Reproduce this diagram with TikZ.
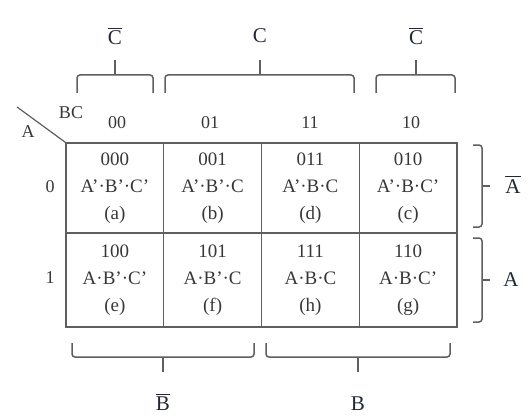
\documentclass[tikz,border=0pt]{standalone}
\usepackage{amsmath}
\usepackage{fontspec}
\setmainfont{Liberation Serif}
\usetikzlibrary{positioning}
\definecolor{gridgray}{RGB}{95,95,95}
\definecolor{textgray}{RGB}{55,55,55}
\definecolor{labelblue}{RGB}{35,40,55}
\tikzset{
    cell/.style={rectangle, draw=gridgray, line width=1.3pt, inner sep=0pt,
                 minimum width=97.75pt, minimum height=90pt, align=center,
                 text=textgray, font=\fontsize{19}{27}\selectfont},
    code/.style={text=textgray, inner sep=0pt, font=\fontsize{18}{20}\selectfont},
    varlabel/.style={text=labelblue, inner sep=0pt, font=\fontsize{21}{24}\selectfont},
    bracket/.style={draw=gridgray, line width=1.5pt, rounded corners=3pt}
}

\begin{document}
\begin{tikzpicture}[x=1pt, y=-1pt]
    \useasboundingbox (0,0) rectangle (528,420);

    % map cells
    \node[cell] (m000) at (114.9,188) {000\\A'·B'·C'\\(a)};
    \node[cell] (m001) at (212.6,188) {001\\A'·B'·C\\(b)};
    \node[cell] (m011) at (310.4,188) {011\\A'·B·C\\(d)};
    \node[cell] (m010) at (408.1,188) {010\\A'·B·C'\\(c)};
    \node[cell, minimum height=94pt] (m100) at (114.9,280) {100\\A·B'·C'\\(e)};
    \node[cell, minimum height=94pt] (m101) at (212.6,280) {101\\A·B'·C\\(f)};
    \node[cell, minimum height=94pt] (m111) at (310.4,280) {111\\A·B·C\\(h)};
    \node[cell, minimum height=94pt] (m110) at (408.1,280) {110\\A·B·C'\\(g)};

    % corner and headings
    \coordinate (corner) at (17,107);
    \draw[draw=gridgray, line width=1.2pt] (corner) -- (m000.north west);
    \node[code] (bc) at (71,113) {BC};
    \node[code] (a) at (28,132) {A};
    \node[code] (h00) at (117,123) {00};
    \node[code] (h01) at (210,123) {01};
    \node[code] (h11) at (310,123) {11};
    \node[code] (h10) at (411,123) {10};
    \node[code] (r0) at (50,187) {0};
    \node[code] (r1) at (50,278) {1};

    % top brackets
    \draw[bracket] (77,93) |- (153,75) -- (153,93);
    \draw[bracket] (115,75) -- (115,60);
    \draw[bracket] (165,93) |- (354,75) -- (354,93);
    \draw[bracket] (260,75) -- (260,60);
    \draw[bracket] (376,93) |- (455,75) -- (455,93);
    \draw[bracket] (416,75) -- (416,60);
    \node[varlabel] (cbar1) at (115,36) {$\overline{\text{C}}$};
    \node[varlabel] (c) at (260,36) {C};
    \node[varlabel] (cbar2) at (416,36) {$\overline{\text{C}}$};

    % right brackets
    \draw[bracket] (473,145) -| (482,227) -- (473,227);
    \draw[bracket] (482,186) -- (490,186);
    \draw[bracket] (473,238) -| (482,322) -- (473,322);
    \draw[bracket] (482,280) -- (490,280);
    \node[varlabel] (abar) at (513,184) {$\overline{\text{A}}$};
    \node[varlabel] (avar) at (511,280) {A};

    % bottom brackets
    \draw[bracket] (72,343) |- (254,357) -- (254,343);
    \draw[bracket] (163,357) -- (163,372);
    \draw[bracket] (266,343) |- (450,357) -- (450,343);
    \draw[bracket] (358,357) -- (358,372);
    \node[varlabel] (bbar) at (163,402) {$\overline{\text{B}}$};
    \node[varlabel] (bvar) at (358,404) {B};
\end{tikzpicture}
\end{document}
